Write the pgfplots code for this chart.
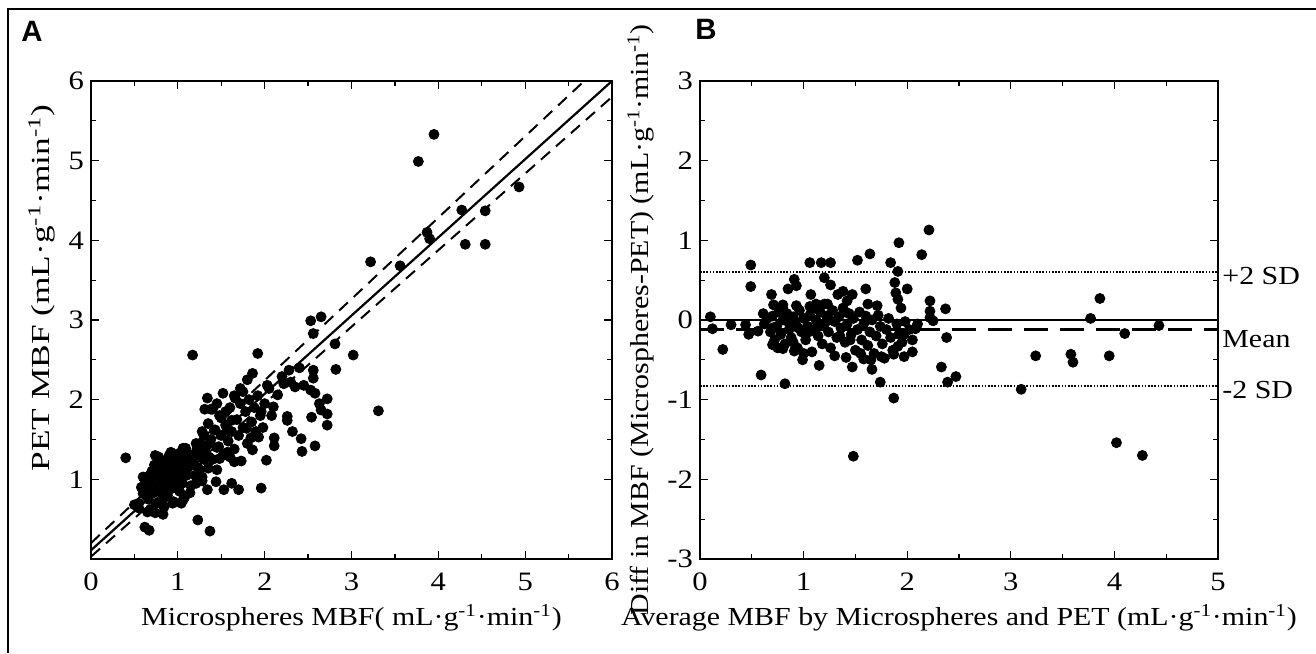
\documentclass[border=0pt]{standalone}
\usepackage{fontspec}
\setmainfont{Liberation Serif}[FakeStretch=1.15]
\newfontfamily\widefont{Liberation Serif}[FakeStretch=1.36]
\newfontfamily\panelfont{Liberation Sans}
\usepackage{pgfplots}
\pgfplotsset{compat=1.18}

\pgfplotsset{
  mbf/.style={
    scale only axis,
    height=239pt,
    axis line style={line width=0.8pt},
    tick style={black, line width=0.6pt},
    major tick length=4pt,
    minor tick length=2.5pt,
    minor tick num=1,
    tick align=inside,
    /pgf/number format/assume math mode=true,
    tick label style={font=\fontsize{13.3}{16}\selectfont},
    xticklabel style={yshift=-3.5pt},
    label style={font=\fontsize{13}{15}\selectfont},
    clip=false,
  },
  dots/.style={only marks, mark=*, mark size=2.5pt, black},
}

\newcommand{\unit}{(mL·g\textsuperscript{-1}·min\textsuperscript{-1})}

\begin{document}
\begin{tikzpicture}[x=1pt,y=1pt]
\path[use as bounding box] (0,0) rectangle (658,326.5);
\draw[line width=1pt] (4,0) -- (4,322) -- (658,322);
\node[font=\panelfont\bfseries\fontsize{14.7}{17}\selectfont, anchor=base west, inner sep=0] at (10.5,305.5) {A};
\node[font=\panelfont\bfseries\fontsize{14.7}{17}\selectfont, anchor=base west, inner sep=0] at (347.5,306.5) {B};

% panel A: PET against microspheres
\begin{axis}[mbf,
  at={(45.5pt,47pt)}, anchor=south west,
  width=260.5pt,
  xmin=0, xmax=6, ymin=0, ymax=6,
  xtick={0,...,6}, ytick={1,...,6},
  xlabel={Microspheres MBF( mL·g\textsuperscript{-1}·min\textsuperscript{-1})},
  ylabel={\widefont PET MBF \unit},
  ylabel style={at={(axis description cs:-0.056,0.567)}},
]
\addplot[dots] table {
3.95 5.33
3.77 4.99
4.93 4.67
4.27 4.38
4.54 4.37
3.87 4.10
3.90 4.02
4.31 3.95
4.54 3.95
3.22 3.73
3.56 3.68
2.53 2.99
2.65 3.04
2.56 2.83
2.81 2.70
3.02 2.56
1.92 2.58
1.17 2.56
2.82 2.38
2.56 2.37
2.56 2.27
3.31 1.86
2.72 2.01
2.72 1.82
2.72 1.68
2.54 1.78
2.58 1.42
2.42 1.51
2.43 1.35
2.32 1.60
2.26 1.79
2.26 1.74
0.40 1.27
0.67 0.36
0.62 0.40
1.23 0.49
1.37 0.35
1.96 0.89
1.34 0.87
1.53 0.87
1.70 0.87
1.62 0.95
1.44 0.97
2.02 1.24
2.11 1.52
2.11 1.42
1.73 1.23
1.65 1.22
1.86 1.37
1.84 1.52
1.93 1.53
1.79 1.64
1.96 1.85
2.08 1.80
2.10 1.91
2.03 2.18
2.05 2.14
2.15 2.06
2.20 2.29
2.28 2.37
2.30 2.22
2.35 2.16
2.45 2.18
2.53 2.12
2.58 2.08
2.63 1.95
2.65 1.87
2.40 2.40
2.22 2.20
1.86 2.33
1.80 2.25
1.72 2.14
1.66 2.02
1.52 2.08
1.34 2.02
1.31 1.88
1.40 1.88
1.50 1.77
1.62 1.74
1.57 1.62
1.43 1.62
1.28 1.60
1.21 1.45
1.34 1.43
1.47 1.41
1.57 1.34
1.60 1.28
1.48 1.26
1.36 1.28
1.27 1.30
1.16 1.28
1.06 1.39
1.09 1.20
1.23 1.15
1.35 1.14
1.45 1.12
1.28 1.03
1.21 0.95
1.14 0.83
1.06 0.74
0.94 0.70
0.84 0.65
0.83 0.56
0.65 0.59
0.55 0.64
0.50 0.68
0.60 1.03
0.74 1.30
0.80 1.24
0.92 1.34
1.02 1.22
1.09 1.39
0.55 0.70
0.60 0.82
0.62 0.95
0.63 1.02
0.65 0.88
0.66 0.75
0.68 0.62
0.70 1.10
0.70 0.95
0.72 0.83
0.73 1.18
0.75 1.05
0.75 0.70
0.77 0.92
0.78 1.28
0.80 1.12
0.80 0.85
0.82 1.00
0.83 0.75
0.85 1.22
0.85 1.08
0.86 0.92
0.88 0.80
0.90 1.30
0.90 1.15
0.90 0.98
0.92 0.88
0.93 1.05
0.95 1.25
0.95 0.72
0.96 1.12
0.98 0.95
1.00 1.32
1.00 1.18
1.00 1.02
1.02 0.85
1.03 1.10
1.05 1.28
1.05 0.95
1.07 1.20
1.08 0.78
1.10 1.35
1.10 1.05
1.12 1.15
1.15 0.92
1.15 1.30
1.18 1.22
1.20 1.05
1.22 1.38
1.25 1.12
1.28 0.98
1.30 1.25
0.58 0.90
0.68 1.05
0.87 1.18
0.97 1.28
1.04 0.70
0.74 0.58
1.25 1.45
1.30 1.55
1.32 1.35
1.35 1.70
1.38 1.50
1.40 1.25
1.42 1.62
1.45 1.40
1.48 1.80
1.50 1.55
1.52 1.30
1.55 1.68
1.58 1.48
1.60 1.90
1.62 1.60
1.65 1.38
1.68 1.75
1.70 1.55
1.72 1.95
1.75 1.65
1.78 1.85
1.80 1.45
1.82 2.00
1.85 1.72
1.88 1.90
1.90 1.60
1.92 2.05
1.95 1.80
1.98 1.65
2.00 1.95
1.55 1.85
1.65 2.05
1.75 2.10
1.45 1.95
1.38 1.88
};
\addplot[black, line width=1.1pt] coordinates {(0,0.11) (6,6)};
\addplot[black, line width=1pt, dash pattern=on 6pt off 4pt] coordinates {(0,0.20) (5.68,6)};
\addplot[black, line width=1pt, dash pattern=on 6pt off 4pt] coordinates {(0,0.03) (6,5.80)};
\end{axis}

% panel B: Bland-Altman
\begin{axis}[mbf,
  at={(350pt,47pt)}, anchor=south west,
  width=259pt,
  xmin=0, xmax=5, ymin=-3, ymax=3,
  xtick={0,...,5}, ytick={-3,...,3},
  xlabel={Average MBF by Microspheres and PET \unit},
  ylabel={Diff in MBF (Microspheres-PET) \unit},
]
\addplot[black, line width=1.1pt] coordinates {(0,0) (5,0)};
\addplot[black, line width=1.6pt, dash pattern=on 12pt off 6pt] coordinates {(0,-0.115) (5,-0.115)};
\addplot[black, line width=0.8pt, dash pattern=on 0.8pt off 0.8pt] coordinates {(0,0.6) (5,0.6)};
\addplot[black, line width=0.8pt, dash pattern=on 0.8pt off 0.8pt] coordinates {(0,-0.83) (5,-0.83)};
\addplot[dots] table {
2.21 1.13
1.92 0.97
2.14 0.82
1.64 0.83
1.52 0.75
1.84 0.72
1.06 0.72
1.17 0.72
1.26 0.72
0.49 0.69
1.91 0.61
1.20 0.53
0.91 0.51
0.93 0.43
1.26 0.44
1.88 0.47
0.49 0.42
0.85 0.39
1.60 0.39
2.00 0.39
1.89 0.34
1.38 0.36
0.69 0.32
1.07 0.32
1.33 0.32
1.47 0.32
1.91 0.26
3.86 0.27
2.22 0.24
0.71 0.19
0.80 0.19
0.93 0.18
1.06 0.17
1.12 0.20
1.23 0.20
1.42 0.24
1.62 0.20
1.71 0.18
1.94 0.15
2.37 0.14
2.22 0.11
0.10 0.04
0.61 0.08
3.77 0.02
2.22 0.03
4.43 -0.07
4.10 -0.17
0.12 -0.11
0.30 -0.06
0.22 -0.37
0.47 -0.18
0.56 -0.14
0.44 -0.06
0.59 -0.69
0.82 -0.80
0.70 -0.31
0.80 -0.36
0.91 -0.39
0.99 -0.50
1.15 -0.57
1.47 -0.59
1.41 -0.47
1.48 -1.71
1.66 -0.62
1.74 -0.78
1.87 -0.98
1.58 -0.49
1.75 -0.46
1.87 -0.43
1.97 -0.46
2.05 -0.40
1.91 -0.33
1.97 -0.18
2.08 -0.11
2.33 -0.59
2.39 -0.78
2.47 -0.71
2.38 -0.22
2.25 -0.01
3.10 -0.87
3.24 -0.45
3.58 -0.43
3.60 -0.53
3.95 -0.45
4.02 -1.54
4.27 -1.70
0.62 -0.05
0.65 0.02
0.68 -0.15
0.70 0.05
0.72 -0.25
0.74 -0.08
0.76 0.10
0.78 -0.18
0.80 0.00
0.82 -0.30
0.84 0.08
0.86 -0.12
0.88 -0.22
0.90 0.04
0.92 -0.05
0.94 -0.35
0.96 0.12
0.98 -0.15
1.00 0.02
1.02 -0.25
1.04 -0.08
1.06 0.06
1.08 -0.40
1.10 -0.12
1.12 0.00
1.14 -0.20
1.16 0.10
1.18 -0.30
1.20 -0.05
1.22 0.05
1.24 -0.15
1.26 -0.35
1.28 0.12
1.30 -0.02
1.32 -0.22
1.34 0.04
1.36 -0.10
1.38 0.15
1.40 -0.28
1.42 -0.05
1.44 0.08
1.46 -0.18
1.48 0.02
1.50 -0.38
1.52 -0.12
1.54 0.10
1.56 -0.25
1.58 -0.05
1.60 0.05
1.62 -0.32
1.64 -0.15
1.66 0.00
1.68 -0.42
1.70 -0.20
1.72 0.06
1.74 -0.08
1.76 -0.30
1.78 -0.48
1.80 -0.12
1.82 0.02
1.84 -0.22
1.86 -0.38
1.90 -0.05
1.92 -0.18
1.95 -0.28
1.98 -0.02
2.02 -0.12
2.05 -0.25
2.10 -0.05
0.85 -0.02
0.95 -0.10
1.05 -0.15
1.15 -0.05
1.25 0.00
1.35 -0.20
1.45 -0.25
0.75 -0.35
0.90 -0.28
1.00 -0.42
1.10 0.15
1.20 0.20
1.30 -0.45
1.40 0.10
1.55 -0.42
1.65 -0.50
0.80 0.15
0.70 -0.10
};
\node[anchor=west, inner sep=2pt, font=\fontsize{13}{15}\selectfont] at (axis cs:5,0.55) {+2 SD};
\node[anchor=north west, inner sep=2pt, font=\fontsize{13}{15}\selectfont] at (axis cs:5,-0.08) {Mean};
\node[anchor=west, inner sep=2pt, font=\fontsize{13}{15}\selectfont] at (axis cs:5,-0.88) {-2 SD};
\end{axis}
\end{tikzpicture}
\end{document}
